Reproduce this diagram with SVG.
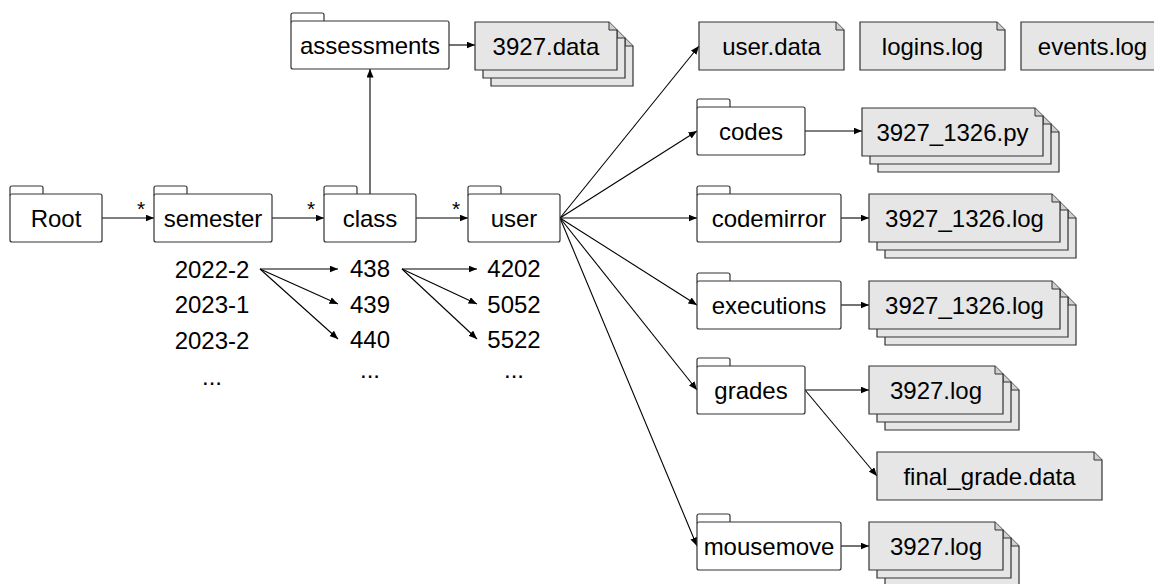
<svg xmlns="http://www.w3.org/2000/svg" width="1154" height="584" viewBox="0 0 1154 584">
  <style>
    text { font-family: "Liberation Sans", Arial, Helvetica, sans-serif; font-size: 24px; fill: #000; text-anchor: middle; }
    .star { font-size: 21px; }
    .folder rect { fill: #fff; stroke: #333; stroke-width: 1.2; }
    .doc path.sheet { fill: #e6e6e6; stroke: #333; stroke-width: 1.2; }
    .doc path.fold { fill: #d0d0d0; stroke: #333; stroke-width: 1; }
    #connectors path { fill: none; stroke: #000; stroke-width: 1.1; marker-end: url(#arrow); }
  </style>
  <defs>
    <marker id="arrow" markerUnits="userSpaceOnUse" markerWidth="9" markerHeight="7" refX="8.5" refY="3.5" orient="auto">
      <path d="M0,0 L8.5,3.5 L0,7 Z" fill="#000"/>
    </marker>
  </defs>

  <!-- connectors -->
  <g id="connectors">
    <path d="M102 218 H154"/>
    <path d="M272 218 H324"/>
    <path d="M416 218 H468"/>
    <path d="M370 194 V69"/>
    <path d="M449 45 H475"/>
    <path d="M560 218 L699 46"/>
    <path d="M560 218 L697 131"/>
    <path d="M560 218 H697"/>
    <path d="M560 218 L697 305"/>
    <path d="M560 218 L697 390"/>
    <path d="M560 218 L697 546"/>
    <path d="M805 131 H862"/>
    <path d="M841 218 H869"/>
    <path d="M841 305 H869"/>
    <path d="M805 390 H869"/>
    <path d="M805 390 L877 476"/>
    <path d="M841 546 H869"/>
    <path d="M260 269 H338"/>
    <path d="M260 269 L338 304"/>
    <path d="M260 269 L338 339"/>
    <path d="M402 269 H477"/>
    <path d="M402 269 L477 304"/>
    <path d="M402 269 L477 339"/>
  </g>

  <!-- multiplicity marks -->
  <g id="multiplicity">
    <text class="star" x="141" y="216">*</text>
    <text class="star" x="311" y="216">*</text>
    <text class="star" x="456" y="216">*</text>
  </g>

  <!-- folders -->
  <g id="root" class="folder">
    <rect x="10" y="186" width="33" height="10" rx="2"/>
    <rect x="10" y="194" width="92" height="48" rx="2"/>
    <text x="56" y="226.5">Root</text>
  </g>
  <g id="semester" class="folder">
    <rect x="154" y="186" width="33" height="10" rx="2"/>
    <rect x="154" y="194" width="118" height="48" rx="2"/>
    <text x="213" y="226.5">semester</text>
  </g>
  <g id="class" class="folder">
    <rect x="324" y="186" width="33" height="10" rx="2"/>
    <rect x="324" y="194" width="92" height="48" rx="2"/>
    <text x="370" y="226.5">class</text>
  </g>
  <g id="user" class="folder">
    <rect x="468" y="186" width="33" height="10" rx="2"/>
    <rect x="468" y="194" width="92" height="48" rx="2"/>
    <text x="514" y="226.5">user</text>
  </g>
  <g id="assessments" class="folder">
    <rect x="291" y="13" width="33" height="10" rx="2"/>
    <rect x="291" y="21" width="158" height="48" rx="2"/>
    <text x="370" y="53.5">assessments</text>
  </g>
  <g id="codes" class="folder">
    <rect x="697" y="99" width="33" height="10" rx="2"/>
    <rect x="697" y="107" width="108" height="48" rx="2"/>
    <text x="751" y="139.5">codes</text>
  </g>
  <g id="codemirror" class="folder">
    <rect x="697" y="186" width="33" height="10" rx="2"/>
    <rect x="697" y="194" width="144" height="48" rx="2"/>
    <text x="769" y="226.5">codemirror</text>
  </g>
  <g id="executions" class="folder">
    <rect x="697" y="273" width="33" height="10" rx="2"/>
    <rect x="697" y="281" width="144" height="48" rx="2"/>
    <text x="769" y="313.5">executions</text>
  </g>
  <g id="grades" class="folder">
    <rect x="697" y="358" width="33" height="10" rx="2"/>
    <rect x="697" y="366" width="108" height="48" rx="2"/>
    <text x="751" y="398.5">grades</text>
  </g>
  <g id="mousemove" class="folder">
    <rect x="697" y="514" width="33" height="10" rx="2"/>
    <rect x="697" y="522" width="144" height="48" rx="2"/>
    <text x="769" y="554.5">mousemove</text>
  </g>

  <!-- data files -->
  <g id="assessment-data" class="doc">
    <path class="sheet" d="M491 38 H625 L633 46 V86 H491 Z"/><path class="fold" d="M625 38 V46 H633"/>
    <path class="sheet" d="M483 30 H617 L625 38 V78 H483 Z"/><path class="fold" d="M617 30 V38 H625"/>
    <path class="sheet" d="M475 22 H609 L617 30 V70 H475 Z"/><path class="fold" d="M609 22 V30 H617"/>
    <text x="546" y="54.5">3927.data</text>
  </g>
  <g id="user-data" class="doc">
    <path class="sheet" d="M699 22 H836 L844 30 V70 H699 Z"/><path class="fold" d="M836 22 V30 H844"/>
    <text x="771.5" y="54.5">user.data</text>
  </g>
  <g id="logins-log" class="doc">
    <path class="sheet" d="M860 22 H997 L1005 30 V70 H860 Z"/><path class="fold" d="M997 22 V30 H1005"/>
    <text x="932.5" y="54.5">logins.log</text>
  </g>
  <g id="events-log" class="doc">
    <path class="sheet" d="M1021 22 H1158 L1166 30 V70 H1021 Z"/><path class="fold" d="M1158 22 V30 H1166"/>
    <text x="1092.5" y="54.5">events.log</text>
  </g>
  <g id="code-files" class="doc">
    <path class="sheet" d="M878 124 H1051 L1059 132 V172 H878 Z"/><path class="fold" d="M1051 124 V132 H1059"/>
    <path class="sheet" d="M870 116 H1043 L1051 124 V164 H870 Z"/><path class="fold" d="M1043 116 V124 H1051"/>
    <path class="sheet" d="M862 108 H1035 L1043 116 V156 H862 Z"/><path class="fold" d="M1035 108 V116 H1043"/>
    <text x="952.5" y="140.5">3927_1326.py</text>
  </g>
  <g id="codemirror-logs" class="doc">
    <path class="sheet" d="M885 210 H1068 L1076 218 V258 H885 Z"/><path class="fold" d="M1068 210 V218 H1076"/>
    <path class="sheet" d="M877 202 H1060 L1068 210 V250 H877 Z"/><path class="fold" d="M1060 202 V210 H1068"/>
    <path class="sheet" d="M869 194 H1052 L1060 202 V242 H869 Z"/><path class="fold" d="M1052 194 V202 H1060"/>
    <text x="964.5" y="226.5">3927_1326.log</text>
  </g>
  <g id="execution-logs" class="doc">
    <path class="sheet" d="M885 297 H1068 L1076 305 V345 H885 Z"/><path class="fold" d="M1068 297 V305 H1076"/>
    <path class="sheet" d="M877 289 H1060 L1068 297 V337 H877 Z"/><path class="fold" d="M1060 289 V297 H1068"/>
    <path class="sheet" d="M869 281 H1052 L1060 289 V329 H869 Z"/><path class="fold" d="M1052 281 V289 H1060"/>
    <text x="964.5" y="313.5">3927_1326.log</text>
  </g>
  <g id="grade-logs" class="doc">
    <path class="sheet" d="M885 382 H1011 L1019 390 V430 H885 Z"/><path class="fold" d="M1011 382 V390 H1019"/>
    <path class="sheet" d="M877 374 H1003 L1011 382 V422 H877 Z"/><path class="fold" d="M1003 374 V382 H1011"/>
    <path class="sheet" d="M869 366 H995 L1003 374 V414 H869 Z"/><path class="fold" d="M995 366 V374 H1003"/>
    <text x="936" y="398.5">3927.log</text>
  </g>
  <g id="final-grade" class="doc">
    <path class="sheet" d="M877 452 H1094 L1102 460 V500 H877 Z"/><path class="fold" d="M1094 452 V460 H1102"/>
    <text x="989.5" y="484.5">final_grade.data</text>
  </g>
  <g id="mousemove-logs" class="doc">
    <path class="sheet" d="M885 538 H1011 L1019 546 V586 H885 Z"/><path class="fold" d="M1011 538 V546 H1019"/>
    <path class="sheet" d="M877 530 H1003 L1011 538 V578 H877 Z"/><path class="fold" d="M1003 530 V538 H1011"/>
    <path class="sheet" d="M869 522 H995 L1003 530 V570 H869 Z"/><path class="fold" d="M995 522 V530 H1003"/>
    <text x="936" y="554.5">3927.log</text>
  </g>

  <!-- example values -->
  <g id="semester-values">
    <text x="212" y="278">2022-2</text>
    <text x="212" y="313">2023-1</text>
    <text x="212" y="349">2023-2</text>
    <text x="212" y="385">...</text>
  </g>
  <g id="class-values">
    <text x="370" y="277">438</text>
    <text x="370" y="313">439</text>
    <text x="370" y="348">440</text>
    <text x="370" y="378">...</text>
  </g>
  <g id="user-values">
    <text x="514" y="277">4202</text>
    <text x="514" y="313">5052</text>
    <text x="514" y="348">5522</text>
    <text x="514" y="378">...</text>
  </g>
</svg>
